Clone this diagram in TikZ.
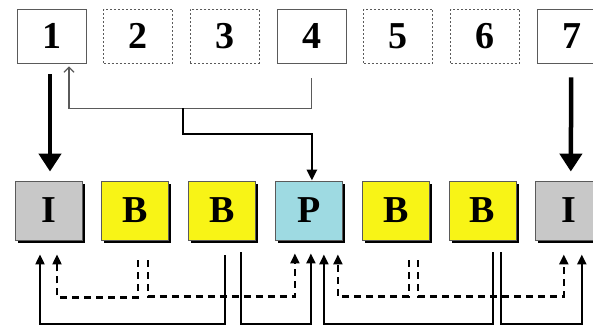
\documentclass[tikz,border=0pt]{standalone}
\usepackage{fontspec}
\setmainfont{Liberation Serif}
\usetikzlibrary{arrows.meta,shadows}
\definecolor{igray}{RGB}{200,200,200}
\definecolor{byellow}{RGB}{248,244,22}
\definecolor{pcyan}{RGB}{158,218,226}
\definecolor{edge}{RGB}{90,90,90}
\begin{document}
\begin{tikzpicture}[x=1pt,y=-1pt,
    slot/.style={draw=edge,line width=.9pt,minimum width=69pt,minimum height=54pt,inner sep=0pt,
        font=\fontsize{38}{38}\selectfont\bfseries},
    empty/.style={slot,dash pattern=on 2pt off 2pt},
    frame/.style={draw=edge,line width=.9pt,minimum width=67pt,minimum height=59pt,inner sep=0pt,
        font=\fontsize{38}{38}\selectfont\bfseries,
        drop shadow={shadow xshift=2.5pt,shadow yshift=-2.5pt,fill=black,opacity=1}},
    ref/.style={line width=2.2pt,-{Triangle[width=9pt,length=10pt]}},
    pred/.style={ref,dash pattern=on 7pt off 5pt},
    load/.style={line width=4.5pt,-{Triangle[width=22pt,length=18pt]}}]

\path[use as bounding box,clip](0,0)rectangle(593,325);

  \foreach \n/\s in {1/slot,2/empty,3/empty,4/slot,5/empty,6/empty,7/slot}
{
    \node[\s] (t\n) at ({51.5+86.7*(\n-1)},36) {\n};
}
  \foreach \n/\f/\col in {1/I/igray,2/B/byellow,3/B/byellow,4/P/pcyan,5/B/byellow,6/B/byellow,7/I/igray}
{
    \node[frame,fill=\col] (f\n) at ({48.5+86.8*(\n-1)},210.5) {\f};
}

\draw[load]([xshift=-1.5pt,yshift=-11pt]t1.south)--([xshift=1.5pt,yshift=9pt]f1.north);
\draw[load]([xshift=-.5pt,yshift=-14pt]t7.south)--([xshift=1.5pt,yshift=9pt]f7.north);

\draw[edge,line width=1.2pt,-{Straight Barb[length=5pt,width=10pt]}]([yshift=-15pt]t4.south)--++(0,30)-|([xshift=17.5pt,yshift=-3pt]t1.south);
\coordinate (tap) at (183,108);
\draw[line width=2.8pt,-{Triangle[width=10pt,length=11pt]}](tap)--++(0,26)-|([xshift=3pt]f4.north);

% references below the frames
\draw[ref]([xshift=3pt,yshift=-15pt]f3.south)--++(0,68.5)-|([xshift=-8.5pt,yshift=-14pt]f1.south);
\draw[ref]([xshift=19pt,yshift=-12pt]f3.south)--++(0,71.5)-|([xshift=2pt,yshift=-13pt]f4.south);
\draw[ref]([xshift=10.5pt,yshift=-12pt]f6.south)--++(0,71.5)-|([xshift=15pt,yshift=-14pt]f4.south);
\draw[ref]([xshift=18.5pt,yshift=-12pt]f6.south)--++(0,71.5)-|([xshift=12.5pt,yshift=-14pt]f7.south);

\draw[pred]([xshift=2.5pt,yshift=-20pt]f2.south)--++(0,37)-|([xshift=8.5pt,yshift=-14pt]f1.south);
\draw[pred]([xshift=12.5pt,yshift=-20pt]f2.south)--++(0,36)-|([xshift=-14pt,yshift=-13pt]f4.south);
\draw[pred]([xshift=13.5pt,yshift=-20pt]f5.south)--++(0,36)-|([xshift=29pt,yshift=-14pt]f4.south);
\draw[pred]([xshift=22.5pt,yshift=-20pt]f5.south)--++(0,36)-|([xshift=-5.5pt,yshift=-14pt]f7.south);
\end{tikzpicture}
\end{document}
